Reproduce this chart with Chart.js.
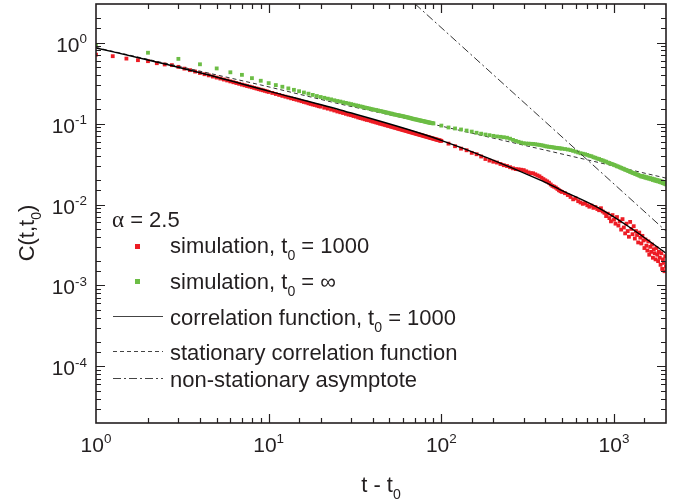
<!DOCTYPE html>
<html>
<head>
<meta charset="utf-8">
<script src="https://cdn.jsdelivr.net/npm/chart.js@4.4.1/dist/chart.umd.min.js"></script>
<style>
html, body { margin: 0; padding: 0; background: #fff; }
#wrap { width: 679px; height: 504px; }
</style>
</head>
<body>
<div id="wrap"><canvas id="corrCanvas" width="679" height="504"></canvas></div>
<script>
// simulation, t0 = 1000 (red)
var redX = [1,1.25,1.5,1.75,2,2.25,2.5,2.75,3,3.25,3.5,3.75,4,4.25,4.5,4.75,5,5.25,5.5,5.75,6,6.25,6.5,6.75,7,7.25,7.5,7.75,8,8.25,8.5,8.75,9,9.25,9.5,9.75,10,
  10.5,11,11.5,12,12.5,13,13.5,14,14.5,15,15.5,16,16.5,17,17.5,18,18.5,19,19.5,20,
  21,22,23,24,25,26,27,28,29,30,31,32,33,34,35,36,37,38,39,40,41,42,43,44,45,46,47,48,49,50,
  51,52,53,54,55,56,57,58,59,60,61,62,63,64,65,66,67,68,69,70,71,72,73,74,75,76,77,78,79,80,
  81,82,83,84,85,86,87,88,89,90,91,92,93,94,95,96,97,98,99,
  100,110,120,130,140,150,160,170,180,190,200,210,220,230,240,250,260,270,280,290,300,
  310,320,330,340,350,360,370,380,390,400,410,420,430,440,450,460,470,480,490,500,
  520,540,560,580,600,620,640,660,680,700,720,740,760,780,800,820,840,860,880,900,
  920,940,960,980,1000,1020,1040,1060,1080,1100,1120,1140,1160,1180,1200,1220,1240,1260,1280,1300,
  1320,1340,1360,1380,1400,1420,1440,1460,1480,1500,1520,1540,1560,1580,1600,1620,1640,1660,1680,1700,
  1720,1740,1760,1780,1800,1820,1840,1860,1880,1900,1920,1940,1960,1980,2000];
var redY = [0.71,0.68,0.635,0.607,0.59,0.557,0.537,0.527,0.502,
  0.477,0.457,0.439,0.422,0.407,0.394,0.381,0.370,0.360,0.350,0.341,0.332,0.324,0.317,0.310,0.303,0.297,0.291,0.286,0.281,0.276,0.271,0.266,0.262,0.258,0.254,0.250,0.246,
  0.239,0.232,0.226,0.220,0.215,0.210,0.205,0.201,0.197,0.193,0.189,0.185,0.182,0.178,0.175,0.172,0.170,0.167,0.164,0.162,
  0.157,0.153,0.149,0.145,0.141,0.138,0.135,0.132,0.129,0.127,
  0.124,0.122,0.119,0.117,0.115,0.113,0.111,0.110,0.108,0.106,
  0.105,0.103,0.102,0.100,0.099,0.0977,0.0965,0.0952,0.0940,0.0929,
  0.0918,0.0907,0.0897,0.0887,0.0877,0.0867,0.0858,0.0849,0.0841,0.0832,
  0.0824,0.0816,0.0808,0.0800,0.0793,0.0785,0.0778,0.0771,0.0765,0.0758,
  0.0751,0.0745,0.0739,0.0733,0.0727,0.0721,0.0716,0.0710,0.0705,0.0699,
  0.0694,0.0689,0.0684,0.0679,0.0674,0.0669,0.0664,0.0660,0.0655,0.0651,
  0.0647,0.0642,0.0638,0.0634,0.0630,0.0626,0.0622,0.0618,0.0614,
  0.0611,0.0565,0.0525,0.0490,0.0468,0.0435,0.0418,0.0392,0.0365,0.0349,0.0338,
  0.0330,0.0317,0.0306,0.0299,0.0289,0.0280,0.0274,0.0272,0.0269,0.0266,
  0.0257,0.0249,0.0244,0.0243,0.0236,0.0229,0.0223,0.0214,0.0206,0.0199,
  0.0193,0.0186,0.0177,0.0170,0.0166,0.0162,0.0156,0.0150,0.0146,0.0143,
  0.0138,0.0131,0.0124,0.0116,0.0119,0.0110,0.0106,0.0102,0.0104,0.0098,
  0.0094,0.0097,0.0091,0.0093,0.0088,0.0085,0.0090,0.0082,0.0079,0.0072,
  0.0077,0.0068,0.0062,0.0074,0.0065,0.0058,0.0070,0.0055,0.0062,0.0049,
  0.0066,0.0052,0.0044,0.0058,0.0047,0.0040,0.0061,0.0050,0.0043,0.0054,
  0.0038,0.0047,0.0042,0.0034,0.0045,0.0039,0.0033,0.0041,0.0036,0.0029,
  0.0037,0.0031,0.0027,0.0035,0.0024,0.0030,0.0026,0.0032,0.0022,0.0028,
  0.0025,0.0021,0.0029,0.0024,0.0020,0.0026,0.0022,0.0018,0.0025,0.0016,
  0.0021,0.0019,0.0015,0.0023,0.0017];

// simulation, t0 = infinity (green)
var greenX = [1,2,3,4,5,6,7,8,9,10,11,12,13,14,15,16,17,18,19,20,21,22,23,24,25,26,27,28,29,30,
  31,32,33,34,35,36,37,38,39,40,41,42,43,44,45,46,47,48,49,50,51,52,53,54,55,56,57,58,59,60,
  61,62,63,64,65,66,67,68,69,70,71,72,73,74,75,76,77,78,79,80,81,82,83,84,85,86,87,88,89,90,
  100,110,120,130,140,150,160,170,180,190,200,210,220,230,240,250,260,270,280,290,300,
  310,320,330,340,350,360,370,380,390,400,410,420,430,440,450,460,470,480,490,500,
  520,540,560,580,600,620,640,660,680,700,720,740,760,780,800,820,840,860,880,900,
  920,940,960,980,1000,1020,1040,1060,1080,1100,1120,1140,1160,1180,1200,1220,1240,1260,1280,1300,
  1320,1340,1360,1380,1400,1420,1440,1460,1480,1500,1520,1540,1560,1580,1600,1620,1640,1660,1680,1700,
  1720,1740,1760,1780,1800,1820,1840,1860,1880,1900,1920,1940,1960,1980,2000];
var greenY = [0.94,0.75,0.63,0.54,0.48,0.43,0.40,0.364,0.338,0.316,
  0.299,0.285,0.272,0.261,0.251,0.242,0.234,0.226,0.219,0.213,
  0.208,0.203,0.199,0.194,0.190,0.187,0.183,0.180,0.177,0.174,
  0.171,0.168,0.166,0.163,0.161,0.158,0.156,0.154,0.152,0.150,
  0.148,0.147,0.145,0.143,0.142,0.140,0.139,0.137,0.136,0.134,
  0.133,0.132,0.130,0.129,0.128,0.127,0.126,0.125,0.124,0.123,
  0.122,0.121,0.120,0.119,0.118,0.117,0.116,0.115,0.114,0.113,
  0.1125,0.112,0.111,0.110,0.1095,0.109,0.108,0.1075,0.107,0.106,
  0.1055,0.105,0.104,0.1035,0.103,0.1025,0.102,0.1015,0.101,0.1005,
  0.0944,0.0895,0.0870,0.0845,0.0820,0.0796,0.0770,0.0750,0.0732,0.0719,0.0705,
  0.0693,0.0686,0.0678,0.0668,0.0650,0.0628,0.0610,0.0595,0.0582,0.0572,
  0.0566,0.0565,0.0562,0.0560,0.0556,0.0550,0.0546,0.0540,0.0534,0.0525,
  0.0521,0.0517,0.0513,0.0510,0.0505,0.0502,0.0499,0.0496,0.0493,0.0490,
  0.0485,0.0478,0.0470,0.0460,0.0450,0.0440,0.0430,0.0424,0.0418,0.0410,
  0.0400,0.0395,0.0384,0.0378,0.0369,0.0365,0.0356,0.0351,0.0343,0.0338,
  0.0330,0.0326,0.0318,0.0315,0.0308,0.0304,0.0297,0.0294,0.0288,0.0284,
  0.0278,0.0276,0.0269,0.0267,0.0261,0.0259,0.0253,0.0251,0.0246,0.0244,
  0.0240,0.0238,0.0234,0.0232,0.0228,0.0226,0.0221,0.0225,0.0218,0.0222,
  0.0214,0.0218,0.0211,0.0215,0.0208,0.0212,0.0205,0.0209,0.0201,0.0206,
  0.0198,0.0203,0.0195,0.0200,0.0193,0.0198,0.0190,0.0196,0.0187,0.0192,
  0.0184,0.0189,0.0180,0.0185,0.0177];

// correlation function, t0 = 1000 (solid)
var corrX = [1, 2, 4, 10, 26, 98, 389, 486, 828, 1237, 2000];
var corrY = [0.86, 0.61, 0.425, 0.252, 0.147, 0.063, 0.0193, 0.0153, 0.0089, 0.0052, 0.0025];

// stationary correlation function (dashed)
var statX = [1, 9, 26, 100, 697, 2000];
var statY = [0.87, 0.30, 0.174, 0.093, 0.0357, 0.0212];

// non-stationary asymptote (dash-dot)
var asymX = [60, 2000];
var asymY = [4.1, 0.0047];

// axis decades that carry a label
var xTickPowers = [0, 1, 2, 3];
var yTickPowers = [0, -1, -2, -3, -4];

var labels = [
  "simulation, t_{0} = 1000",
  "simulation, t_{0} = \u221e",
  "correlation function, t_{0} = 1000",
  "stationary correlation function",
  "non-stationary asymptote"
];
var legendHeader = "\u03b1 = 2.5";
var xTitle = "t - t_{0}";
var yTitle = "C(t,t_{0})";

function pts(xs, ys) {
  return xs.map(function (x, i) { return { x: x, y: ys[i] }; });
}

var FONT = '"Liberation Sans", Arial, Helvetica, sans-serif';
var INK = "#231f20";

// draws text with _{sub} and ^{sup} parts
function richText(ctx, str, x, y, size, align) {
  var parts = str.split(/(_\{[^}]*\}|\^\{[^}]*\})/).filter(function (s) { return s.length; });
  var segs = parts.map(function (p) {
    if (p[0] === "_" && p[1] === "{") return { t: p.slice(2, -1), s: size * 0.64, dy: size * 0.3 };
    if (p[0] === "^" && p[1] === "{") return { t: p.slice(2, -1), s: size * 0.64, dy: -size * 0.42 };
    return { t: p, s: size, dy: 0 };
  });
  var total = 0;
  segs.forEach(function (g) {
    ctx.font = g.s + "px " + FONT;
    g.w = ctx.measureText(g.t).width;
    total += g.w;
  });
  var cx = x;
  if (align === "center") cx = x - total / 2;
  if (align === "right") cx = x - total;
  ctx.textAlign = "left";
  ctx.textBaseline = "alphabetic";
  segs.forEach(function (g) {
    ctx.font = g.s + "px " + FONT;
    ctx.fillText(g.t, cx, y + g.dy);
    cx += g.w;
  });
}

var framePlugin = {
  id: "frame",
  afterDraw: function (chart) {
    var ctx = chart.ctx;
    var a = chart.chartArea;
    var xs = chart.scales.x, ys = chart.scales.y;
    ctx.save();
    ctx.strokeStyle = INK;
    ctx.fillStyle = INK;

    // inward tick marks on all four sides
    ctx.lineWidth = 1.2;
    ctx.beginPath();
    xs.ticks.forEach(function (t) {
      var lg = Math.log10(t.value);
      var len = Math.abs(lg - Math.round(lg)) < 1e-6 ? 9 : 5;
      var p = Math.round(xs.getPixelForValue(t.value)) + 0.5;
      if (p <= a.left + 1 || p >= a.right - 1) return;
      ctx.moveTo(p, a.bottom); ctx.lineTo(p, a.bottom - len);
      ctx.moveTo(p, a.top); ctx.lineTo(p, a.top + len);
    });
    ys.ticks.forEach(function (t) {
      var lg = Math.log10(t.value);
      var len = Math.abs(lg - Math.round(lg)) < 1e-6 ? 9 : 5;
      var p = Math.round(ys.getPixelForValue(t.value)) + 0.5;
      if (p <= a.top + 1 || p >= a.bottom - 1) return;
      ctx.moveTo(a.left, p); ctx.lineTo(a.left + len, p);
      ctx.moveTo(a.right, p); ctx.lineTo(a.right - len, p);
    });
    ctx.stroke();

    // frame
    ctx.lineWidth = 1.6;
    ctx.strokeRect(a.left, a.top, a.right - a.left, a.bottom - a.top);

    // tick labels
    xTickPowers.forEach(function (p) {
      var px = xs.getPixelForValue(Math.pow(10, p));
      richText(ctx, "10^{" + p + "}", px, a.bottom + 29, 21, "center");
    });
    yTickPowers.forEach(function (p) {
      var py = ys.getPixelForValue(Math.pow(10, p));
      richText(ctx, "10^{" + p + "}", a.left - 9, py + 9, 21, "right");
    });

    // axis titles
    richText(ctx, xTitle, (a.left + a.right) / 2, 492, 22, "center");
    ctx.save();
    ctx.translate(34, 233);
    ctx.rotate(-Math.PI / 2);
    richText(ctx, yTitle, 0, 0, 22, "center");
    ctx.restore();

    // legend inside the plot
    ctx.textAlign = "left";
    ctx.font = "23px \"Liberation Serif\", serif";
    ctx.fillText(legendHeader.slice(0, 1), 112, 227);
    var aw = ctx.measureText(legendHeader.slice(0, 1)).width;
    richText(ctx, legendHeader.slice(1), 112 + aw, 227, 22, "left");

    var rows = [
      { ds: 4, base: 253, mid: 246 },
      { ds: 2, base: 289, mid: 281 },
      { ds: 0, base: 325, mid: 316 },
      { ds: 3, base: 360, mid: 351 },
      { ds: 1, base: 387, mid: 378 }
    ];
    rows.forEach(function (r, i) {
      var d = chart.data.datasets[r.ds];
      if (d.showLine) {
        ctx.save();
        ctx.strokeStyle = "#444";
        ctx.lineWidth = 1;
        ctx.setLineDash(d.borderDash || []);
        ctx.beginPath();
        ctx.moveTo(113, r.mid + 0.5);
        ctx.lineTo(163, r.mid + 0.5);
        ctx.stroke();
        ctx.restore();
      } else {
        ctx.fillStyle = d.backgroundColor;
        ctx.fillRect(135, r.mid - 2, 5, 5);
        ctx.fillStyle = INK;
      }
      richText(ctx, labels[i], 170, r.base, 22, "left");
    });
    ctx.restore();
  }
};

var axisOpts = {
  ticks: { display: false },
  grid: { display: false, drawTicks: false },
  border: { display: false }
};

var chart = new Chart(document.getElementById("corrCanvas"), {
  type: "scatter",
  data: {
    datasets: [
      { label: labels[2], data: pts(corrX, corrY), showLine: true, pointRadius: 0,
        borderColor: "#000", borderWidth: 1.4, cubicInterpolationMode: "monotone" },
      { label: labels[4], data: pts(asymX, asymY), showLine: true, pointRadius: 0,
        borderColor: "#333", borderWidth: 1, borderDash: [8, 3, 2, 3] },
      { label: labels[1], data: pts(greenX, greenY), showLine: false, pointStyle: "rect",
        pointRadius: 2.7, pointBorderWidth: 0, backgroundColor: "#6cbd45", borderColor: "#6cbd45" },
      { label: labels[3], data: pts(statX, statY), showLine: true, pointRadius: 0,
        borderColor: "#333", borderWidth: 1, borderDash: [4, 3] },
      { label: labels[0], data: pts(redX, redY), showLine: false, pointStyle: "rect",
        pointRadius: 2.7, pointBorderWidth: 0, backgroundColor: "#ed1c24", borderColor: "#ed1c24" }
    ]
  },
  options: {
    responsive: false,
    animation: false,
    devicePixelRatio: 1,
    layout: { padding: { left: 96, right: 13, top: 2, bottom: 81 } },
    plugins: { legend: { display: false }, tooltip: { enabled: false } },
    scales: {
      x: Object.assign({ type: "logarithmic", min: 1, max: 2000 }, axisOpts),
      y: Object.assign({ type: "logarithmic", min: 2e-5, max: 3 }, axisOpts)
    }
  },
  plugins: [framePlugin]
});
</script>
</body>
</html>
